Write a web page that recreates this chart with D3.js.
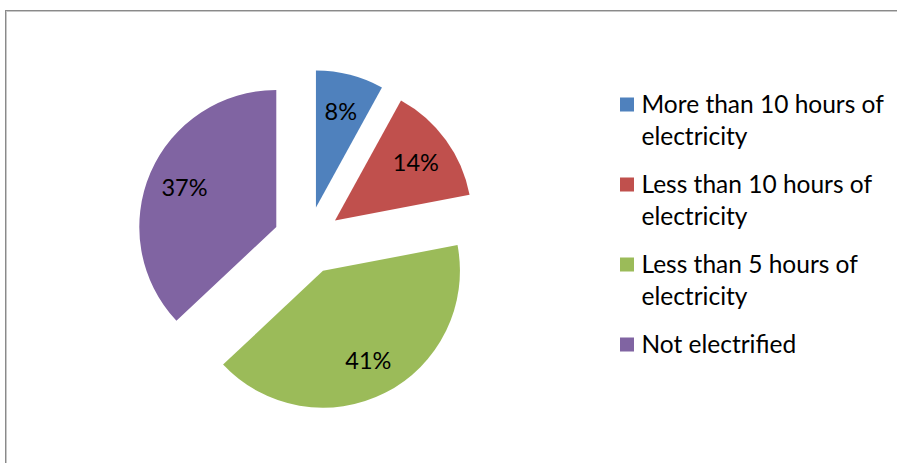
<!DOCTYPE html>
<html>
<head>
<meta charset="utf-8">
<script src="https://cdn.jsdelivr.net/npm/d3@7"></script>
<style>
  html, body { margin: 0; padding: 0; background: #fff; }
  svg { display: block; font-family: Lato, "Open Sans", sans-serif; }
</style>
</head>
<body>
<svg id="chart" width="897" height="463"></svg>
<script>
// Access to electricity, share of households
const categories = [
  "More than 10 hours of electricity",
  "Less than 10 hours of electricity",
  "Less than 5 hours of electricity",
  "Not electrified"
];
const legendLines = [
  ["More than 10 hours of", "electricity"],
  ["Less than 10 hours of", "electricity"],
  ["Less than 5 hours of", "electricity"],
  ["Not electrified"]
];
const shares = [8, 14, 41, 37];
const colors = ["#4F81BD", "#C0504D", "#9BBB59", "#8064A2"];

const svg = d3.select("#chart");
const W = 897, H = 463;

// Chart area frame
svg.append("rect")
  .attr("x", 5.5).attr("y", 10.5)
  .attr("width", W + 20).attr("height", H + 20)
  .attr("fill", "#fff")
  .attr("stroke", "#8a8a8a").attr("stroke-width", 1);
svg.append("rect")
  .attr("x", 6.5).attr("y", 11.5)
  .attr("width", W + 20).attr("height", H + 20)
  .attr("fill", "none")
  .attr("stroke", "#c8c8c8").attr("stroke-width", 1);

// Exploded pie
const cx = 307.5, cy = 240.5;
const R = 137;
const explode = 34;
const labelR = 100;

const pie = d3.pie().sort(null).value(d => d).startAngle(0).endAngle(2 * Math.PI);
const arcs = pie(shares);
const arc = d3.arc().innerRadius(0).outerRadius(R);

const pieG = svg.append("g").attr("transform", `translate(${cx},${cy})`);

const slice = pieG.selectAll("g.slice")
  .data(arcs)
  .join("g")
  .attr("class", "slice")
  .attr("transform", d => {
    const a = (d.startAngle + d.endAngle) / 2;
    return `translate(${explode * Math.sin(a)},${-explode * Math.cos(a)})`;
  });

slice.append("path")
  .attr("d", arc)
  .attr("fill", (d, i) => colors[i]);

slice.append("text")
  .attr("x", d => labelR * Math.sin((d.startAngle + d.endAngle) / 2))
  .attr("y", d => -labelR * Math.cos((d.startAngle + d.endAngle) / 2))
  .attr("text-anchor", "middle")
  .attr("dominant-baseline", "central")
  .attr("font-size", 23.5)
  .attr("fill", "#000")
  .text(d => d.data + "%");

// Legend
const legend = svg.append("g").attr("transform", "translate(620,112.5)");
const item = legend.selectAll("g.item")
  .data(legendLines)
  .join("g")
  .attr("class", "item")
  .attr("transform", (d, i) => `translate(0,${i * 80})`);

item.append("rect")
  .attr("x", 0).attr("y", -15)
  .attr("width", 14).attr("height", 14)
  .attr("fill", (d, i) => colors[i]);

item.append("text")
  .attr("font-size", 24.5)
  .attr("fill", "#000")
  .selectAll("tspan")
  .data(d => d)
  .join("tspan")
  .attr("x", 21.5)
  .attr("y", (d, j) => j * 32.5)
  .text(d => d);
</script>
</body>
</html>
